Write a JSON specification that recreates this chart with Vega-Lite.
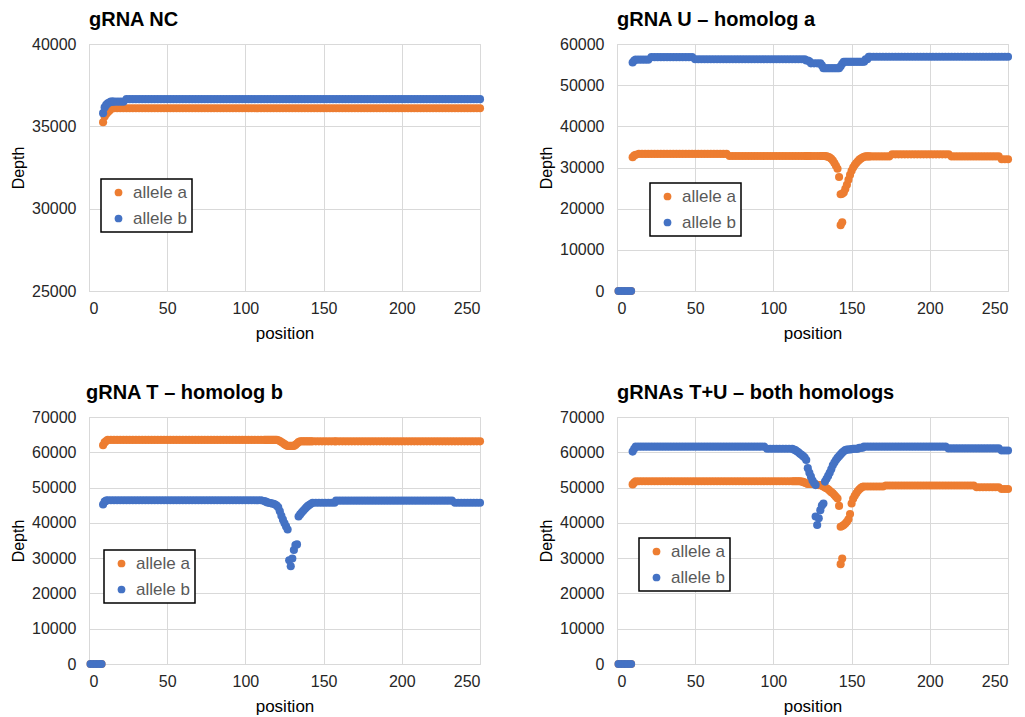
{
"$schema": "https://vega.github.io/schema/vega-lite/v6.json",
"background": "white",
"padding": {"left": 10, "top": 9, "right": 5, "bottom": 5},
"columns": 2,
"spacing": {"row": 126, "column": 137},
"bounds": "flush",
"resolve": {"legend": {"color": "independent"}},
"config": {
  "font": "Liberation Sans",
  "view": {"stroke": "#d9d9d9"},
  "axis": {"labelFont": "Liberation Sans", "labelFontSize": 16, "labelColor": "#262626", "titleFont": "Liberation Sans", "titleFontSize": 17, "titleFontWeight": "normal", "titleColor": "black", "gridColor": "#d9d9d9", "domainColor": "#d9d9d9", "ticks": false},
  "axisX": {"labelPadding": 9, "titlePadding": 9},
  "axisY": {"labelPadding": 13, "titlePadding": 5, "titleFontSize": 16},
  "title": {"font": "Liberation Sans", "fontSize": 20, "fontWeight": "bold", "color": "black", "anchor": "start", "frame": "group", "offset": 6},
  "legend": {"labelFont": "Liberation Sans", "labelFontSize": 17, "labelColor": "#595959", "symbolType": "circle", "symbolSize": 60, "strokeColor": "black", "strokeWidth": 1.5, "fillColor": "white", "padding": 5, "rowPadding": 8, "labelOffset": 6, "symbolOffset": 4}
},
"datasets": {
"nc": [
{"position":9,"allele a":35250,"allele b":35800},{"position":10,"allele a":35600,"allele b":36150},{"position":11,"allele a":35750,"allele b":36300},{"position":12,"allele a":35850,"allele b":36400},{"position":13,"allele a":35950,"allele b":36450},{"position":14,"allele a":36050,"allele b":36500},{"position":15,"allele a":36100,"allele b":36500},{"position":16,"allele a":36100,"allele b":36500},{"position":18,"allele a":36100,"allele b":36500},{"position":20,"allele a":36100,"allele b":36500},{"position":22,"allele a":36100,"allele b":36500},
{"position":24,"allele a":36100,"allele b":36650},{"position":26,"allele a":36100,"allele b":36650},{"position":28,"allele a":36100,"allele b":36650},{"position":30,"allele a":36100,"allele b":36650},{"position":32,"allele a":36100,"allele b":36650},{"position":34,"allele a":36100,"allele b":36650},{"position":36,"allele a":36100,"allele b":36650},{"position":38,"allele a":36100,"allele b":36650},{"position":40,"allele a":36100,"allele b":36650},{"position":42,"allele a":36100,"allele b":36650},{"position":44,"allele a":36100,"allele b":36650},{"position":46,"allele a":36100,"allele b":36650},{"position":48,"allele a":36100,"allele b":36650},{"position":50,"allele a":36100,"allele b":36650},{"position":52,"allele a":36100,"allele b":36650},{"position":54,"allele a":36100,"allele b":36650},{"position":56,"allele a":36100,"allele b":36650},{"position":58,"allele a":36100,"allele b":36650},{"position":60,"allele a":36100,"allele b":36650},{"position":62,"allele a":36100,"allele b":36650},{"position":64,"allele a":36100,"allele b":36650},{"position":66,"allele a":36100,"allele b":36650},{"position":68,"allele a":36100,"allele b":36650},{"position":70,"allele a":36100,"allele b":36650},{"position":72,"allele a":36100,"allele b":36650},{"position":74,"allele a":36100,"allele b":36650},{"position":76,"allele a":36100,"allele b":36650},{"position":78,"allele a":36100,"allele b":36650},{"position":80,"allele a":36100,"allele b":36650},{"position":82,"allele a":36100,"allele b":36650},{"position":84,"allele a":36100,"allele b":36650},{"position":86,"allele a":36100,"allele b":36650},{"position":88,"allele a":36100,"allele b":36650},{"position":90,"allele a":36100,"allele b":36650},{"position":92,"allele a":36100,"allele b":36650},{"position":94,"allele a":36100,"allele b":36650},{"position":96,"allele a":36100,"allele b":36650},{"position":98,"allele a":36100,"allele b":36650},{"position":100,"allele a":36100,"allele b":36650},{"position":102,"allele a":36100,"allele b":36650},{"position":104,"allele a":36100,"allele b":36650},{"position":106,"allele a":36100,"allele b":36650},{"position":108,"allele a":36100,"allele b":36650},{"position":110,"allele a":36100,"allele b":36650},{"position":112,"allele a":36100,"allele b":36650},{"position":114,"allele a":36100,"allele b":36650},{"position":116,"allele a":36100,"allele b":36650},{"position":118,"allele a":36100,"allele b":36650},{"position":120,"allele a":36100,"allele b":36650},{"position":122,"allele a":36100,"allele b":36650},{"position":124,"allele a":36100,"allele b":36650},{"position":126,"allele a":36100,"allele b":36650},{"position":128,"allele a":36100,"allele b":36650},{"position":130,"allele a":36100,"allele b":36650},{"position":132,"allele a":36100,"allele b":36650},{"position":134,"allele a":36100,"allele b":36650},{"position":136,"allele a":36100,"allele b":36650},{"position":138,"allele a":36100,"allele b":36650},{"position":140,"allele a":36100,"allele b":36650},{"position":142,"allele a":36100,"allele b":36650},{"position":144,"allele a":36100,"allele b":36650},{"position":146,"allele a":36100,"allele b":36650},{"position":148,"allele a":36100,"allele b":36650},{"position":150,"allele a":36100,"allele b":36650},{"position":152,"allele a":36100,"allele b":36650},{"position":154,"allele a":36100,"allele b":36650},{"position":156,"allele a":36100,"allele b":36650},{"position":158,"allele a":36100,"allele b":36650},{"position":160,"allele a":36100,"allele b":36650},{"position":162,"allele a":36100,"allele b":36650},{"position":164,"allele a":36100,"allele b":36650},{"position":166,"allele a":36100,"allele b":36650},{"position":168,"allele a":36100,"allele b":36650},{"position":170,"allele a":36100,"allele b":36650},{"position":172,"allele a":36100,"allele b":36650},{"position":174,"allele a":36100,"allele b":36650},{"position":176,"allele a":36100,"allele b":36650},{"position":178,"allele a":36100,"allele b":36650},{"position":180,"allele a":36100,"allele b":36650},{"position":182,"allele a":36100,"allele b":36650},{"position":184,"allele a":36100,"allele b":36650},{"position":186,"allele a":36100,"allele b":36650},{"position":188,"allele a":36100,"allele b":36650},{"position":190,"allele a":36100,"allele b":36650},{"position":192,"allele a":36100,"allele b":36650},{"position":194,"allele a":36100,"allele b":36650},{"position":196,"allele a":36100,"allele b":36650},{"position":198,"allele a":36100,"allele b":36650},{"position":200,"allele a":36100,"allele b":36650},{"position":202,"allele a":36100,"allele b":36650},{"position":204,"allele a":36100,"allele b":36650},{"position":206,"allele a":36100,"allele b":36650},{"position":208,"allele a":36100,"allele b":36650},{"position":210,"allele a":36100,"allele b":36650},{"position":212,"allele a":36100,"allele b":36650},{"position":214,"allele a":36100,"allele b":36650},{"position":216,"allele a":36100,"allele b":36650},{"position":218,"allele a":36100,"allele b":36650},{"position":220,"allele a":36100,"allele b":36650},{"position":222,"allele a":36100,"allele b":36650},{"position":224,"allele a":36100,"allele b":36650},{"position":226,"allele a":36100,"allele b":36650},{"position":228,"allele a":36100,"allele b":36650},{"position":230,"allele a":36100,"allele b":36650},{"position":232,"allele a":36100,"allele b":36650},{"position":234,"allele a":36100,"allele b":36650},{"position":236,"allele a":36100,"allele b":36650},{"position":238,"allele a":36100,"allele b":36650},{"position":240,"allele a":36100,"allele b":36650},{"position":242,"allele a":36100,"allele b":36650},{"position":244,"allele a":36100,"allele b":36650},{"position":246,"allele a":36100,"allele b":36650},{"position":248,"allele a":36100,"allele b":36650},{"position":250,"allele a":36100,"allele b":36650}
],
"u": [
{"position":1,"allele a":0,"allele b":0},{"position":3,"allele a":0,"allele b":0},{"position":5,"allele a":0,"allele b":0},{"position":7,"allele a":0,"allele b":0},{"position":9,"allele a":0,"allele b":0},
{"position":10,"allele a":32500,"allele b":55500},{"position":11,"allele a":32900,"allele b":56000},{"position":12,"allele a":33100,"allele b":56200},{"position":14,"allele a":33300,"allele b":56200},{"position":16,"allele a":33300,"allele b":56200},{"position":18,"allele a":33300,"allele b":56200},{"position":20,"allele a":33300,"allele b":56200},
{"position":22,"allele a":33300,"allele b":56800},{"position":24,"allele a":33300,"allele b":56800},{"position":26,"allele a":33300,"allele b":56800},{"position":28,"allele a":33300,"allele b":56800},{"position":30,"allele a":33300,"allele b":56800},{"position":32,"allele a":33300,"allele b":56800},{"position":34,"allele a":33300,"allele b":56800},{"position":36,"allele a":33300,"allele b":56800},{"position":38,"allele a":33300,"allele b":56800},{"position":40,"allele a":33300,"allele b":56800},{"position":42,"allele a":33300,"allele b":56800},{"position":44,"allele a":33300,"allele b":56800},{"position":46,"allele a":33300,"allele b":56800},{"position":48,"allele a":33300,"allele b":56800},
{"position":50,"allele a":33300,"allele b":56300},{"position":52,"allele a":33300,"allele b":56300},{"position":54,"allele a":33300,"allele b":56300},{"position":56,"allele a":33300,"allele b":56300},{"position":58,"allele a":33300,"allele b":56300},{"position":60,"allele a":33300,"allele b":56300},{"position":62,"allele a":33300,"allele b":56300},{"position":64,"allele a":33300,"allele b":56300},{"position":66,"allele a":33300,"allele b":56300},{"position":68,"allele a":33300,"allele b":56300},{"position":70,"allele a":33300,"allele b":56300},
{"position":72,"allele a":32800,"allele b":56300},{"position":74,"allele a":32800,"allele b":56300},{"position":76,"allele a":32800,"allele b":56300},{"position":78,"allele a":32800,"allele b":56300},{"position":80,"allele a":32800,"allele b":56300},{"position":82,"allele a":32800,"allele b":56300},{"position":84,"allele a":32800,"allele b":56300},{"position":86,"allele a":32800,"allele b":56300},{"position":88,"allele a":32800,"allele b":56300},{"position":90,"allele a":32800,"allele b":56300},{"position":92,"allele a":32800,"allele b":56300},{"position":94,"allele a":32800,"allele b":56300},{"position":96,"allele a":32800,"allele b":56300},{"position":98,"allele a":32800,"allele b":56300},{"position":100,"allele a":32800,"allele b":56300},{"position":102,"allele a":32800,"allele b":56300},{"position":104,"allele a":32800,"allele b":56300},{"position":106,"allele a":32800,"allele b":56300},{"position":108,"allele a":32800,"allele b":56300},{"position":110,"allele a":32800,"allele b":56300},{"position":112,"allele a":32800,"allele b":56300},{"position":114,"allele a":32800,"allele b":56300},{"position":116,"allele a":32800,"allele b":56300},{"position":118,"allele a":32800,"allele b":56300},{"position":120,"allele a":32800,"allele b":56300},
{"position":121,"allele a":32800,"allele b":56000},{"position":122,"allele a":32800,"allele b":56000},{"position":123,"allele a":32800,"allele b":55800},{"position":124,"allele a":32800,"allele b":55300},{"position":126,"allele a":32800,"allele b":55300},{"position":128,"allele a":32800,"allele b":55300},{"position":130,"allele a":32800,"allele b":55300},{"position":131,"allele a":32800,"allele b":54800},{"position":132,"allele a":32800,"allele b":54100},{"position":133,"allele a":32800,"allele b":54100},{"position":134,"allele a":32700,"allele b":54100},{"position":135,"allele a":32600,"allele b":54100},{"position":136,"allele a":32400,"allele b":54100},{"position":137,"allele a":32100,"allele b":54100},{"position":138,"allele a":31700,"allele b":54100},{"position":139,"allele a":31100,"allele b":54100},{"position":140,"allele a":30400,"allele b":54100},{"position":141,"allele a":29700,"allele b":54100},{"position":142,"allele a":27700,"allele b":54100},{"position":143,"allele a":23500,"allele b":54600},{"position":143,"allele a":16000},{"position":144,"allele a":23600,"allele b":55200},{"position":144,"allele a":16700},{"position":145,"allele a":23900,"allele b":55700},{"position":146,"allele a":24800,"allele b":55700},{"position":147,"allele a":25800,"allele b":55700},{"position":148,"allele a":27000,"allele b":55700},{"position":149,"allele a":28200,"allele b":55700},{"position":150,"allele a":29200,"allele b":55700},{"position":151,"allele a":30000,"allele b":55700},{"position":152,"allele a":30600,"allele b":55700},{"position":153,"allele a":31100,"allele b":55700},{"position":154,"allele a":31500,"allele b":55700},{"position":155,"allele a":31900,"allele b":55700},{"position":156,"allele a":32200,"allele b":55700},{"position":157,"allele a":32400,"allele b":55700},{"position":158,"allele a":32600,"allele b":55700},{"position":159,"allele a":32700,"allele b":56300},{"position":160,"allele a":32700,"allele b":56300},{"position":161,"allele a":32700,"allele b":56900},
{"position":162,"allele a":32700,"allele b":56900},{"position":164,"allele a":32700,"allele b":56900},{"position":166,"allele a":32700,"allele b":56900},{"position":168,"allele a":32700,"allele b":56900},{"position":170,"allele a":32700,"allele b":56900},{"position":172,"allele a":32700,"allele b":56900},{"position":174,"allele a":32700,"allele b":56900},
{"position":176,"allele a":33200,"allele b":56900},{"position":178,"allele a":33200,"allele b":56900},{"position":180,"allele a":33200,"allele b":56900},{"position":182,"allele a":33200,"allele b":56900},{"position":184,"allele a":33200,"allele b":56900},{"position":186,"allele a":33200,"allele b":56900},{"position":188,"allele a":33200,"allele b":56900},{"position":190,"allele a":33200,"allele b":56900},{"position":192,"allele a":33200,"allele b":56900},{"position":194,"allele a":33200,"allele b":56900},{"position":196,"allele a":33200,"allele b":56900},{"position":198,"allele a":33200,"allele b":56900},{"position":200,"allele a":33200,"allele b":56900},{"position":202,"allele a":33200,"allele b":56900},{"position":204,"allele a":33200,"allele b":56900},{"position":206,"allele a":33200,"allele b":56900},{"position":208,"allele a":33200,"allele b":56900},{"position":210,"allele a":33200,"allele b":56900},{"position":212,"allele a":33200,"allele b":56900},
{"position":214,"allele a":32700,"allele b":56900},{"position":216,"allele a":32700,"allele b":56900},{"position":218,"allele a":32700,"allele b":56900},{"position":220,"allele a":32700,"allele b":56900},{"position":222,"allele a":32700,"allele b":56900},{"position":224,"allele a":32700,"allele b":56900},{"position":226,"allele a":32700,"allele b":56900},{"position":228,"allele a":32700,"allele b":56900},{"position":230,"allele a":32700,"allele b":56900},{"position":232,"allele a":32700,"allele b":56900},{"position":234,"allele a":32700,"allele b":56900},{"position":236,"allele a":32700,"allele b":56900},{"position":238,"allele a":32700,"allele b":56900},{"position":240,"allele a":32700,"allele b":56900},{"position":242,"allele a":32700,"allele b":56900},{"position":244,"allele a":32700,"allele b":56900},
{"position":246,"allele a":32000,"allele b":56900},{"position":248,"allele a":32000,"allele b":56900},{"position":250,"allele a":32000,"allele b":56900}
],
"t": [
{"position":1,"allele a":0,"allele b":0},{"position":3,"allele a":0,"allele b":0},{"position":5,"allele a":0,"allele b":0},{"position":7,"allele a":0,"allele b":0},{"position":8,"allele a":0,"allele b":0},
{"position":9,"allele a":62000,"allele b":45200},{"position":10,"allele a":62800,"allele b":46000},{"position":11,"allele a":63200,"allele b":46300},
{"position":12,"allele a":63500,"allele b":46400},{"position":14,"allele a":63500,"allele b":46400},{"position":16,"allele a":63500,"allele b":46400},{"position":18,"allele a":63500,"allele b":46400},{"position":20,"allele a":63500,"allele b":46400},{"position":22,"allele a":63500,"allele b":46400},{"position":24,"allele a":63500,"allele b":46400},{"position":26,"allele a":63500,"allele b":46400},{"position":28,"allele a":63500,"allele b":46400},{"position":30,"allele a":63500,"allele b":46400},{"position":32,"allele a":63500,"allele b":46400},{"position":34,"allele a":63500,"allele b":46400},{"position":36,"allele a":63500,"allele b":46400},{"position":38,"allele a":63500,"allele b":46400},{"position":40,"allele a":63500,"allele b":46400},{"position":42,"allele a":63500,"allele b":46400},{"position":44,"allele a":63500,"allele b":46400},{"position":46,"allele a":63500,"allele b":46400},{"position":48,"allele a":63500,"allele b":46400},{"position":50,"allele a":63500,"allele b":46400},{"position":52,"allele a":63500,"allele b":46400},{"position":54,"allele a":63500,"allele b":46400},{"position":56,"allele a":63500,"allele b":46400},{"position":58,"allele a":63500,"allele b":46400},{"position":60,"allele a":63500,"allele b":46400},{"position":62,"allele a":63500,"allele b":46400},{"position":64,"allele a":63500,"allele b":46400},{"position":66,"allele a":63500,"allele b":46400},{"position":68,"allele a":63500,"allele b":46400},{"position":70,"allele a":63500,"allele b":46400},{"position":72,"allele a":63500,"allele b":46400},{"position":74,"allele a":63500,"allele b":46400},{"position":76,"allele a":63500,"allele b":46400},{"position":78,"allele a":63500,"allele b":46400},{"position":80,"allele a":63500,"allele b":46400},{"position":82,"allele a":63500,"allele b":46400},{"position":84,"allele a":63500,"allele b":46400},{"position":86,"allele a":63500,"allele b":46400},{"position":88,"allele a":63500,"allele b":46400},{"position":90,"allele a":63500,"allele b":46400},{"position":92,"allele a":63500,"allele b":46400},{"position":94,"allele a":63500,"allele b":46400},{"position":96,"allele a":63500,"allele b":46400},{"position":98,"allele a":63500,"allele b":46400},{"position":100,"allele a":63500,"allele b":46400},{"position":102,"allele a":63500,"allele b":46400},{"position":104,"allele a":63500,"allele b":46400},{"position":106,"allele a":63500,"allele b":46400},{"position":108,"allele a":63500,"allele b":46400},{"position":110,"allele a":63500,"allele b":46400},
{"position":112,"allele a":63500,"allele b":46200},{"position":113,"allele a":63500,"allele b":46000},{"position":114,"allele a":63500,"allele b":45800},{"position":115,"allele a":63500,"allele b":45700},{"position":116,"allele a":63500,"allele b":45600},{"position":117,"allele a":63500,"allele b":45500},{"position":118,"allele a":63500,"allele b":45400},{"position":119,"allele a":63500,"allele b":45200},{"position":120,"allele a":63500,"allele b":44900},{"position":121,"allele a":63400,"allele b":44400},{"position":122,"allele a":63200,"allele b":43300},{"position":123,"allele a":62900,"allele b":42000},{"position":124,"allele a":62600,"allele b":40900},{"position":125,"allele a":62300,"allele b":39900},{"position":126,"allele a":62000,"allele b":39000},{"position":127,"allele a":61800,"allele b":38100},{"position":128,"allele a":61800,"allele b":29400},{"position":129,"allele a":61800,"allele b":27700},{"position":130,"allele a":61800,"allele b":29900},{"position":131,"allele a":61800,"allele b":32300},{"position":132,"allele a":62100,"allele b":33700},{"position":133,"allele a":62500,"allele b":33900},{"position":134,"allele a":62900,"allele b":41800},{"position":135,"allele a":63100,"allele b":42400},{"position":136,"allele a":63100,"allele b":42900},{"position":137,"allele a":63100,"allele b":43400},{"position":138,"allele a":63100,"allele b":43900},{"position":139,"allele a":63100,"allele b":44400},{"position":140,"allele a":63100,"allele b":44800},{"position":141,"allele a":63100,"allele b":45100},{"position":142,"allele a":63100,"allele b":45400},
{"position":143,"allele a":63100,"allele b":45700},{"position":145,"allele a":63100,"allele b":45700},{"position":147,"allele a":63100,"allele b":45700},{"position":149,"allele a":63100,"allele b":45700},{"position":151,"allele a":63100,"allele b":45700},{"position":153,"allele a":63100,"allele b":45700},{"position":155,"allele a":63100,"allele b":45700},{"position":157,"allele a":63100,"allele b":45700},
{"position":158,"allele a":63100,"allele b":46300},{"position":160,"allele a":63100,"allele b":46300},{"position":162,"allele a":63100,"allele b":46300},{"position":164,"allele a":63100,"allele b":46300},{"position":166,"allele a":63100,"allele b":46300},{"position":168,"allele a":63100,"allele b":46300},{"position":170,"allele a":63100,"allele b":46300},{"position":172,"allele a":63100,"allele b":46300},{"position":174,"allele a":63100,"allele b":46300},{"position":176,"allele a":63100,"allele b":46300},{"position":178,"allele a":63100,"allele b":46300},{"position":180,"allele a":63100,"allele b":46300},{"position":182,"allele a":63100,"allele b":46300},{"position":184,"allele a":63100,"allele b":46300},{"position":186,"allele a":63100,"allele b":46300},{"position":188,"allele a":63100,"allele b":46300},{"position":190,"allele a":63100,"allele b":46300},{"position":192,"allele a":63100,"allele b":46300},{"position":194,"allele a":63100,"allele b":46300},{"position":196,"allele a":63100,"allele b":46300},{"position":198,"allele a":63100,"allele b":46300},{"position":200,"allele a":63100,"allele b":46300},{"position":202,"allele a":63100,"allele b":46300},{"position":204,"allele a":63100,"allele b":46300},{"position":206,"allele a":63100,"allele b":46300},{"position":208,"allele a":63100,"allele b":46300},{"position":210,"allele a":63100,"allele b":46300},{"position":212,"allele a":63100,"allele b":46300},{"position":214,"allele a":63100,"allele b":46300},{"position":216,"allele a":63100,"allele b":46300},{"position":218,"allele a":63100,"allele b":46300},{"position":220,"allele a":63100,"allele b":46300},{"position":222,"allele a":63100,"allele b":46300},{"position":224,"allele a":63100,"allele b":46300},{"position":226,"allele a":63100,"allele b":46300},{"position":228,"allele a":63100,"allele b":46300},{"position":230,"allele a":63100,"allele b":46300},{"position":232,"allele a":63100,"allele b":46300},
{"position":234,"allele a":63100,"allele b":45700},{"position":236,"allele a":63100,"allele b":45700},{"position":238,"allele a":63100,"allele b":45700},{"position":240,"allele a":63100,"allele b":45700},{"position":242,"allele a":63100,"allele b":45700},{"position":244,"allele a":63100,"allele b":45700},{"position":246,"allele a":63100,"allele b":45700},{"position":248,"allele a":63100,"allele b":45700},{"position":250,"allele a":63100,"allele b":45700}
],
"tu": [
{"position":1,"allele a":0,"allele b":0},{"position":3,"allele a":0,"allele b":0},{"position":5,"allele a":0,"allele b":0},{"position":7,"allele a":0,"allele b":0},{"position":9,"allele a":0,"allele b":0},
{"position":10,"allele a":50900,"allele b":60200},{"position":11,"allele a":51400,"allele b":61000},
{"position":12,"allele a":51800,"allele b":61600},{"position":14,"allele a":51800,"allele b":61600},{"position":16,"allele a":51800,"allele b":61600},{"position":18,"allele a":51800,"allele b":61600},{"position":20,"allele a":51800,"allele b":61600},{"position":22,"allele a":51800,"allele b":61600},{"position":24,"allele a":51800,"allele b":61600},{"position":26,"allele a":51800,"allele b":61600},{"position":28,"allele a":51800,"allele b":61600},{"position":30,"allele a":51800,"allele b":61600},{"position":32,"allele a":51800,"allele b":61600},{"position":34,"allele a":51800,"allele b":61600},{"position":36,"allele a":51800,"allele b":61600},{"position":38,"allele a":51800,"allele b":61600},{"position":40,"allele a":51800,"allele b":61600},{"position":42,"allele a":51800,"allele b":61600},{"position":44,"allele a":51800,"allele b":61600},{"position":46,"allele a":51800,"allele b":61600},{"position":48,"allele a":51800,"allele b":61600},{"position":50,"allele a":51800,"allele b":61600},{"position":52,"allele a":51800,"allele b":61600},{"position":54,"allele a":51800,"allele b":61600},{"position":56,"allele a":51800,"allele b":61600},{"position":58,"allele a":51800,"allele b":61600},{"position":60,"allele a":51800,"allele b":61600},{"position":62,"allele a":51800,"allele b":61600},{"position":64,"allele a":51800,"allele b":61600},{"position":66,"allele a":51800,"allele b":61600},{"position":68,"allele a":51800,"allele b":61600},{"position":70,"allele a":51800,"allele b":61600},{"position":72,"allele a":51800,"allele b":61600},{"position":74,"allele a":51800,"allele b":61600},{"position":76,"allele a":51800,"allele b":61600},{"position":78,"allele a":51800,"allele b":61600},{"position":80,"allele a":51800,"allele b":61600},{"position":82,"allele a":51800,"allele b":61600},{"position":84,"allele a":51800,"allele b":61600},{"position":86,"allele a":51800,"allele b":61600},{"position":88,"allele a":51800,"allele b":61600},{"position":90,"allele a":51800,"allele b":61600},{"position":92,"allele a":51800,"allele b":61600},{"position":94,"allele a":51800,"allele b":61600},
{"position":96,"allele a":51800,"allele b":61000},{"position":98,"allele a":51800,"allele b":61000},{"position":100,"allele a":51800,"allele b":61000},{"position":102,"allele a":51800,"allele b":61000},{"position":104,"allele a":51800,"allele b":61000},{"position":106,"allele a":51800,"allele b":61000},{"position":108,"allele a":51800,"allele b":61000},{"position":110,"allele a":51800,"allele b":61000},{"position":112,"allele a":51800,"allele b":61000},
{"position":113,"allele a":51800,"allele b":60800},{"position":114,"allele a":51800,"allele b":60600},{"position":115,"allele a":51800,"allele b":60300},{"position":116,"allele a":51800,"allele b":60000},{"position":117,"allele a":51800,"allele b":59600},{"position":118,"allele a":51700,"allele b":59300},{"position":119,"allele a":51600,"allele b":58900},{"position":120,"allele a":51400,"allele b":58500},{"position":121,"allele a":51200,"allele b":57800},{"position":122,"allele a":51000,"allele b":55500},{"position":123,"allele a":51000,"allele b":54200},{"position":124,"allele a":51000,"allele b":53100},{"position":125,"allele a":51000,"allele b":52000},{"position":126,"allele a":51000,"allele b":51300},{"position":127,"allele a":50900,"allele b":50700},{"position":127,"allele b":41800},{"position":128,"allele a":50800,"allele b":39400},{"position":129,"allele a":50700,"allele b":41300},{"position":130,"allele a":50700,"allele b":43600},{"position":131,"allele a":50500,"allele b":44900},{"position":132,"allele a":50300,"allele b":45500},{"position":133,"allele a":50000,"allele b":51700},{"position":134,"allele a":49800,"allele b":52500},{"position":135,"allele a":49500,"allele b":53300},{"position":136,"allele a":49100,"allele b":54200},{"position":137,"allele a":48700,"allele b":55200},{"position":138,"allele a":48400,"allele b":56300},{"position":139,"allele a":47900,"allele b":57100},{"position":140,"allele a":47400,"allele b":57800},{"position":141,"allele a":46900,"allele b":58400},{"position":142,"allele a":44800,"allele b":58900},{"position":143,"allele a":38900,"allele b":59400},{"position":143,"allele a":28300},{"position":144,"allele a":39100,"allele b":59900},{"position":144,"allele a":29900},{"position":145,"allele a":39400,"allele b":60300},{"position":146,"allele a":39800,"allele b":60600},{"position":147,"allele a":40300,"allele b":60800},{"position":148,"allele a":41000,"allele b":60800},{"position":149,"allele a":42500,"allele b":60800},{"position":150,"allele a":45500,"allele b":60900},{"position":151,"allele a":46800,"allele b":61000},{"position":152,"allele a":47700,"allele b":61000},{"position":153,"allele a":48400,"allele b":61000},{"position":154,"allele a":49000,"allele b":61000},{"position":155,"allele a":49500,"allele b":61300},{"position":156,"allele a":49900,"allele b":61300},{"position":157,"allele a":50200,"allele b":61300},
{"position":158,"allele a":50300,"allele b":61600},{"position":160,"allele a":50300,"allele b":61600},{"position":162,"allele a":50300,"allele b":61600},{"position":164,"allele a":50300,"allele b":61600},{"position":166,"allele a":50300,"allele b":61600},{"position":168,"allele a":50300,"allele b":61600},{"position":170,"allele a":50300,"allele b":61600},
{"position":172,"allele a":50600,"allele b":61600},{"position":174,"allele a":50600,"allele b":61600},{"position":176,"allele a":50600,"allele b":61600},{"position":178,"allele a":50600,"allele b":61600},{"position":180,"allele a":50600,"allele b":61600},{"position":182,"allele a":50600,"allele b":61600},{"position":184,"allele a":50600,"allele b":61600},{"position":186,"allele a":50600,"allele b":61600},{"position":188,"allele a":50600,"allele b":61600},{"position":190,"allele a":50600,"allele b":61600},{"position":192,"allele a":50600,"allele b":61600},{"position":194,"allele a":50600,"allele b":61600},{"position":196,"allele a":50600,"allele b":61600},{"position":198,"allele a":50600,"allele b":61600},{"position":200,"allele a":50600,"allele b":61600},{"position":202,"allele a":50600,"allele b":61600},{"position":204,"allele a":50600,"allele b":61600},{"position":206,"allele a":50600,"allele b":61600},{"position":208,"allele a":50600,"allele b":61600},{"position":210,"allele a":50600,"allele b":61600},
{"position":212,"allele a":50600,"allele b":61100},{"position":214,"allele a":50600,"allele b":61100},{"position":216,"allele a":50600,"allele b":61100},{"position":218,"allele a":50600,"allele b":61100},{"position":220,"allele a":50600,"allele b":61100},{"position":222,"allele a":50600,"allele b":61100},{"position":224,"allele a":50600,"allele b":61100},{"position":226,"allele a":50600,"allele b":61100},{"position":228,"allele a":50600,"allele b":61100},
{"position":230,"allele a":50100,"allele b":61100},{"position":232,"allele a":50100,"allele b":61100},{"position":234,"allele a":50100,"allele b":61100},{"position":236,"allele a":50100,"allele b":61100},{"position":238,"allele a":50100,"allele b":61100},{"position":240,"allele a":50100,"allele b":61100},{"position":242,"allele a":50100,"allele b":61100},{"position":244,"allele a":50100,"allele b":61100},
{"position":246,"allele a":49600,"allele b":60500},{"position":248,"allele a":49600,"allele b":60500},{"position":250,"allele a":49600,"allele b":60500}
]
},
"concat": [
{
  "width": 391, "height": 247,
  "title": {"text": "gRNA NC"},
  "data": {"name": "nc"},
  "transform": [{"fold": ["allele a", "allele b"], "as": ["allele", "depth"]}],
  "mark": {"type": "point", "filled": true, "size": 66, "opacity": 1},
  "encoding": {
    "x": {"field": "position", "type": "quantitative", "scale": {"domain": [0, 250], "nice": false}, "axis": {"values": [0, 50, 100, 150, 200, 250], "title": "position"}},
    "y": {"field": "depth", "type": "quantitative", "scale": {"domain": [25000, 40000], "nice": false, "zero": false}, "axis": {"values": [25000, 30000, 35000, 40000], "format": "d", "title": "Depth"}},
    "color": {"field": "allele", "type": "nominal", "scale": {"domain": ["allele a", "allele b"], "range": ["#ED7D31", "#4472C4"]}, "legend": {"orient": "none", "legendX": 12, "legendY": 135, "title": null}},
    "order": {"field": "allele", "type": "ordinal", "sort": "ascending"}
  }
},
{
  "width": 391, "height": 247,
  "title": {"text": "gRNA U – homolog a"},
  "data": {"name": "u"},
  "transform": [{"fold": ["allele a", "allele b"], "as": ["allele", "depth"]}],
  "mark": {"type": "point", "filled": true, "size": 66, "opacity": 1},
  "encoding": {
    "x": {"field": "position", "type": "quantitative", "scale": {"domain": [0, 250], "nice": false}, "axis": {"values": [0, 50, 100, 150, 200, 250], "title": "position"}},
    "y": {"field": "depth", "type": "quantitative", "scale": {"domain": [0, 60000], "nice": false}, "axis": {"values": [0, 10000, 20000, 30000, 40000, 50000, 60000], "format": "d", "title": "Depth"}},
    "color": {"field": "allele", "type": "nominal", "scale": {"domain": ["allele a", "allele b"], "range": ["#ED7D31", "#4472C4"]}, "legend": {"orient": "none", "legendX": 33, "legendY": 139, "title": null}},
    "order": {"field": "allele", "type": "ordinal", "sort": "ascending"}
  }
},
{
  "width": 391, "height": 247,
  "title": {"text": "gRNA T – homolog b", "dx": -3},
  "data": {"name": "t"},
  "transform": [{"fold": ["allele a", "allele b"], "as": ["allele", "depth"]}],
  "mark": {"type": "point", "filled": true, "size": 66, "opacity": 1},
  "encoding": {
    "x": {"field": "position", "type": "quantitative", "scale": {"domain": [0, 250], "nice": false}, "axis": {"values": [0, 50, 100, 150, 200, 250], "title": "position"}},
    "y": {"field": "depth", "type": "quantitative", "scale": {"domain": [0, 70000], "nice": false}, "axis": {"values": [0, 10000, 20000, 30000, 40000, 50000, 60000, 70000], "format": "d", "title": "Depth"}},
    "color": {"field": "allele", "type": "nominal", "scale": {"domain": ["allele a", "allele b"], "range": ["#ED7D31", "#4472C4"]}, "legend": {"orient": "none", "legendX": 15, "legendY": 133, "title": null}},
    "order": {"field": "allele", "type": "ordinal", "sort": "ascending"}
  }
},
{
  "width": 391, "height": 247,
  "title": {"text": "gRNAs T+U – both homologs"},
  "data": {"name": "tu"},
  "transform": [{"fold": ["allele a", "allele b"], "as": ["allele", "depth"]}],
  "mark": {"type": "point", "filled": true, "size": 66, "opacity": 1},
  "encoding": {
    "x": {"field": "position", "type": "quantitative", "scale": {"domain": [0, 250], "nice": false}, "axis": {"values": [0, 50, 100, 150, 200, 250], "title": "position"}},
    "y": {"field": "depth", "type": "quantitative", "scale": {"domain": [0, 70000], "nice": false}, "axis": {"values": [0, 10000, 20000, 30000, 40000, 50000, 60000, 70000], "format": "d", "title": "Depth"}},
    "color": {"field": "allele", "type": "nominal", "scale": {"domain": ["allele a", "allele b"], "range": ["#ED7D31", "#4472C4"]}, "legend": {"orient": "none", "legendX": 22, "legendY": 121, "title": null}},
    "order": {"field": "allele", "type": "ordinal", "sort": "ascending"}
  }
}
]
}
